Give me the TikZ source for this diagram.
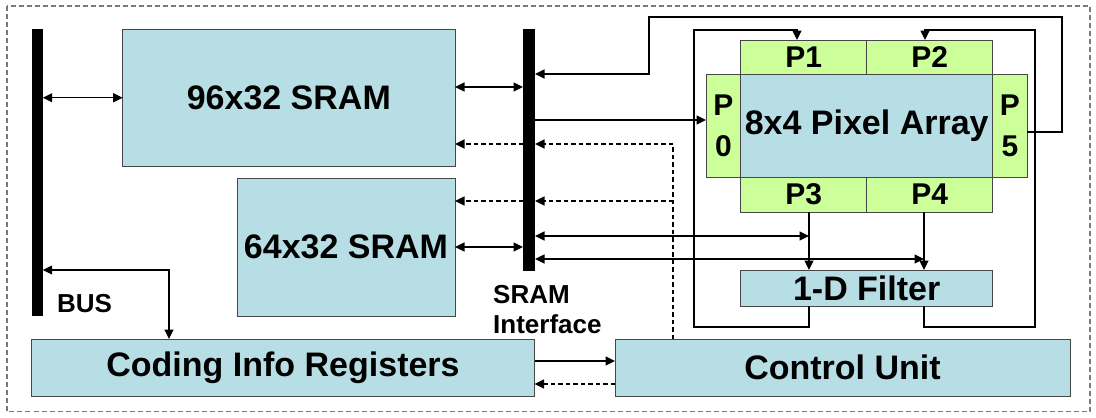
\documentclass[tikz,border=0pt]{standalone}
\usepackage{fontspec}
\setmainfont{Liberation Sans}
\usetikzlibrary{arrows.meta}
\definecolor{boxblue}{RGB}{183,222,228}
\definecolor{pixgreen}{RGB}{204,255,153}
\definecolor{boxline}{RGB}{70,70,70}
\definecolor{framegray}{RGB}{120,120,120}
\tikzset{
  plainbox/.style={draw=boxline, line width=0.9pt, inner sep=0pt, outer sep=0pt, align=center},
  memblk/.style={plainbox, fill=boxblue, font=\fontsize{34}{40}\selectfont\bfseries},
  pixblk/.style={plainbox, fill=pixgreen, font=\fontsize{30}{41}\selectfont\bfseries},
  busbar/.style={fill=black, inner sep=0pt, outer sep=0pt},
  lbl/.style={inner sep=0pt, font=\fontsize{26}{30}\selectfont\bfseries, align=left},
  conn/.style={line width=1.2pt, black},
  arr/.style={conn, -{Triangle[length=9.5pt,width=9pt]}},
  dbl/.style={conn, {Triangle[length=9.5pt,width=9pt]}-{Triangle[length=9.5pt,width=9pt]}},
  darr/.style={arr, dash pattern=on 4.5pt off 3pt}
}
\begin{document}
\begin{tikzpicture}[x=1pt,y=-1pt]
\useasboundingbox (0,0) rectangle (1096,418);
% outer dashed frame
\draw[framegray, line width=1.2pt, dash pattern=on 5pt off 3pt] (7,6) rectangle (1090,411.5);

% buses
\node[busbar, minimum width=11pt, minimum height=287pt] (bus) at (37.2,172.5) {};
\node[busbar, minimum width=12pt, minimum height=242pt] (ifbar) at (529,150) {};

% memories and control blocks
\node[memblk, minimum width=332.3pt, minimum height=136.5pt] (s96) at (288.85,97.75) {96x32 SRAM};
\node[memblk, minimum width=218pt, minimum height=138pt] (s64) at (346,247) {64x32 SRAM};
\node[memblk, minimum width=503pt, minimum height=57pt] (coding) at (283,367.5) {Coding Info Registers};
\node[memblk, minimum width=455pt, minimum height=57pt] (control) at (842.5,367.5) {Control Unit};

% pixel array with its border pixels
\node[memblk, minimum width=252pt, minimum height=103pt] (array) at (866.7,125.5) {8x4 Pixel Array};
\node[pixblk, minimum width=126pt, minimum height=34pt] (p1) at (803.7,57) {P1};
\node[pixblk, minimum width=126pt, minimum height=34pt] (p2) at (929.7,57) {P2};
\node[pixblk, minimum width=126pt, minimum height=35pt] (p3) at (803.7,194.5) {P3};
\node[pixblk, minimum width=126pt, minimum height=35pt] (p4) at (929.7,194.5) {P4};
\node[pixblk, minimum width=34.7pt, minimum height=103pt] (p0) at (723.35,125.5) {P\\0};
\node[pixblk, minimum width=34.3pt, minimum height=103pt] (p5) at (1009.85,125.5) {P\\5};
\node[memblk, minimum width=252pt, minimum height=36pt] (filter) at (866.7,288) {1-D Filter};

% labels
\node[lbl, anchor=west] (buslbl) at (57,304) {BUS};
\node[lbl, anchor=north west] (iflbl) at (493,285.5) {SRAM\\Interface};

% routing levels
\coordinate (loopL) at (649,0);
\coordinate (loopR) at (1062,0);
\coordinate (loopT) at (0,17);
\coordinate (loopIn) at (0,74);
\coordinate (frameL) at (694,0);
\coordinate (frameR) at (1035,0);
\coordinate (frameT) at (0,30);
\coordinate (frameB) at (0,327);
\coordinate (ctlX) at (673,0);
\coordinate (busX) at (169,0);
\coordinate (p1X) at (797,0);
\coordinate (p2X) at (925,0);
\coordinate (p3X) at (809,0);
\coordinate (p4X) at (924,0);
\coordinate (y87) at (0,87);
\coordinate (y120) at (0,120);
\coordinate (y132) at (0,132);
\coordinate (y144) at (0,144);
\coordinate (y201) at (0,201);
\coordinate (y236) at (0,236);
\coordinate (y247) at (0,247);
\coordinate (y259) at (0,259);
\coordinate (y270) at (0,270);
\coordinate (y361) at (0,361);
\coordinate (y384) at (0,384);

% bus and memory links
\draw[dbl] (bus.east |- s96.west) -- (s96.west);
\draw[dbl] (s96.east |- y87) -- (ifbar.west |- y87);
\draw[dbl] (s64.east |- y247) -- (ifbar.west |- y247);
\draw[dbl] (bus.east |- y270) -- (busX |- y270) -- (coding.north -| busX);

% pixel array links
\draw[arr] (p5.east |- y132) -- (loopR |- y132) -- (loopR |- loopT) -- (loopL |- loopT) -- (loopL |- loopIn) -- (ifbar.east |- loopIn);
\draw[arr] (ifbar.east |- y120) -- (p0.west |- y120);
\draw[dbl] (ifbar.east |- y236) -- (p3X |- y236);
\draw[dbl] (ifbar.east |- y259) -- (p4X |- y259);
\draw[arr] (p3.south -| p3X) -- (filter.north -| p3X);
\draw[arr] (p4.south -| p4X) -- (filter.north -| p4X);
\draw[arr] (filter.south -| p3X) -- (p3X |- frameB) -- (frameL |- frameB) -- (frameL |- frameT) -- (p1X |- frameT) -- (p1.north -| p1X);
\draw[arr] (filter.south -| p4X) -- (p4X |- frameB) -- (frameR |- frameB) -- (frameR |- frameT) -- (p2X |- frameT) -- (p2.north -| p2X);

% control signals
\draw[darr] (control.north -| ctlX) -- (ctlX |- y144) -- (ifbar.east |- y144);
\draw[darr] (ctlX |- y201) -- (ifbar.east |- y201);
\draw[darr] (ifbar.west |- y144) -- (s96.east |- y144);
\draw[darr] (ifbar.west |- y201) -- (s64.east |- y201);
\draw[arr] (coding.east |- y361) -- (control.west |- y361);
\draw[darr] (control.west |- y384) -- (coding.east |- y384);
\end{tikzpicture}
\end{document}
